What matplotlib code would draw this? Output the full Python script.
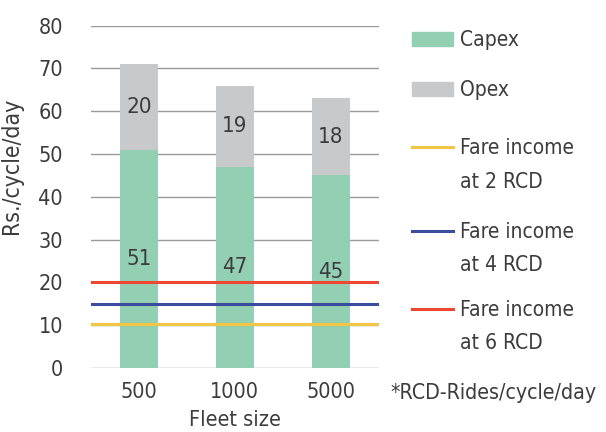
import matplotlib
matplotlib.use("Agg")
import matplotlib.pyplot as plt
from matplotlib.lines import Line2D
from matplotlib.patches import Patch

categories = ["500", "1000", "5000"]
capex = [51, 47, 45]
opex = [20, 19, 18]
fare_levels = [10.4, 15, 20]
fare_first = ["Fare income", "Fare income", "Fare income"]
fare_second = ["at 2 RCD", "at 4 RCD", "at 6 RCD"]
fare_colors = ["#F2C545", "#3A4C9E", "#EE4634"]

plt.rcParams['font.family'] = ['DejaVu Sans']
plt.rcParams['font.stretch'] = 'condensed'

txt = "#3c3c3c"
fig = plt.figure(figsize=(6.06, 4.32), dpi=100)
ax = fig.add_axes([0.150, 0.148, 0.475, 0.7925])

x = list(range(len(categories)))
green = "#93CFB3"
grey = "#C8C9CB"
b1 = ax.bar(x, capex, width=0.4, color=green, zorder=2)
b2 = ax.bar(x, opex, width=0.4, bottom=capex, color=grey, zorder=2)
ax.bar_label(b1, labels=[str(v) for v in capex], label_type='center', fontsize=16, color=txt)
ax.bar_label(b2, labels=[str(v) for v in opex], label_type='center', fontsize=16, color=txt)

for lvl, c in zip(fare_levels, fare_colors):
    ax.axhline(lvl, color=c, lw=2.2, zorder=3)

ax.set_xlim(-0.5, 2.5)
ax.set_ylim(0, 80)
ax.set_yticks(range(0, 81, 10))
ax.set_xticks(x)
ax.set_xticklabels(categories)
ax.yaxis.grid(True, color="#9a9a9a", lw=1.0, zorder=0)
ax.set_axisbelow(True)
for s in ax.spines.values():
    s.set_visible(False)
ax.tick_params(axis='both', length=0, labelsize=15.5, labelcolor=txt)
ax.tick_params(axis='y', pad=20)
ax.tick_params(axis='x', pad=10)
ax.set_ylabel("Rs./cycle/day", fontsize=16.5, color=txt)
ax.yaxis.set_label_coords(-0.235, 0.59)
ax.set_xlabel("Fleet size", fontsize=15.5, color=txt, labelpad=6)

# legend rows (one per text line), placed down the right-hand side
H = 432.0
rows = [
    (Patch(color=green), "Capex", 40),
    (Patch(color=grey), "Opex", 90),
]
row_y = [(148, 182), (232, 265), (310, 343)]
for c, a, b, (y1, y2) in zip(fare_colors, fare_first, fare_second, row_y):
    rows.append((Line2D([], [], color=c, lw=2.2), a, y1))
    rows.append((Patch(color='none'), b, y2))

for h, lab, yy in rows:
    fig.legend([h], [lab], loc='center left', bbox_to_anchor=(412 / 606, 1 - yy / H),
               frameon=False, fontsize=15, labelcolor=txt, handlelength=1.95,
               handleheight=0.65, handletextpad=0.35, borderpad=0, borderaxespad=0)

fig.text(390 / 606, 1 - 393 / H, "*RCD-Rides/cycle/day", fontsize=15.3, color=txt, va='center', ha='left')

fig.savefig("out.png", dpi=100)
